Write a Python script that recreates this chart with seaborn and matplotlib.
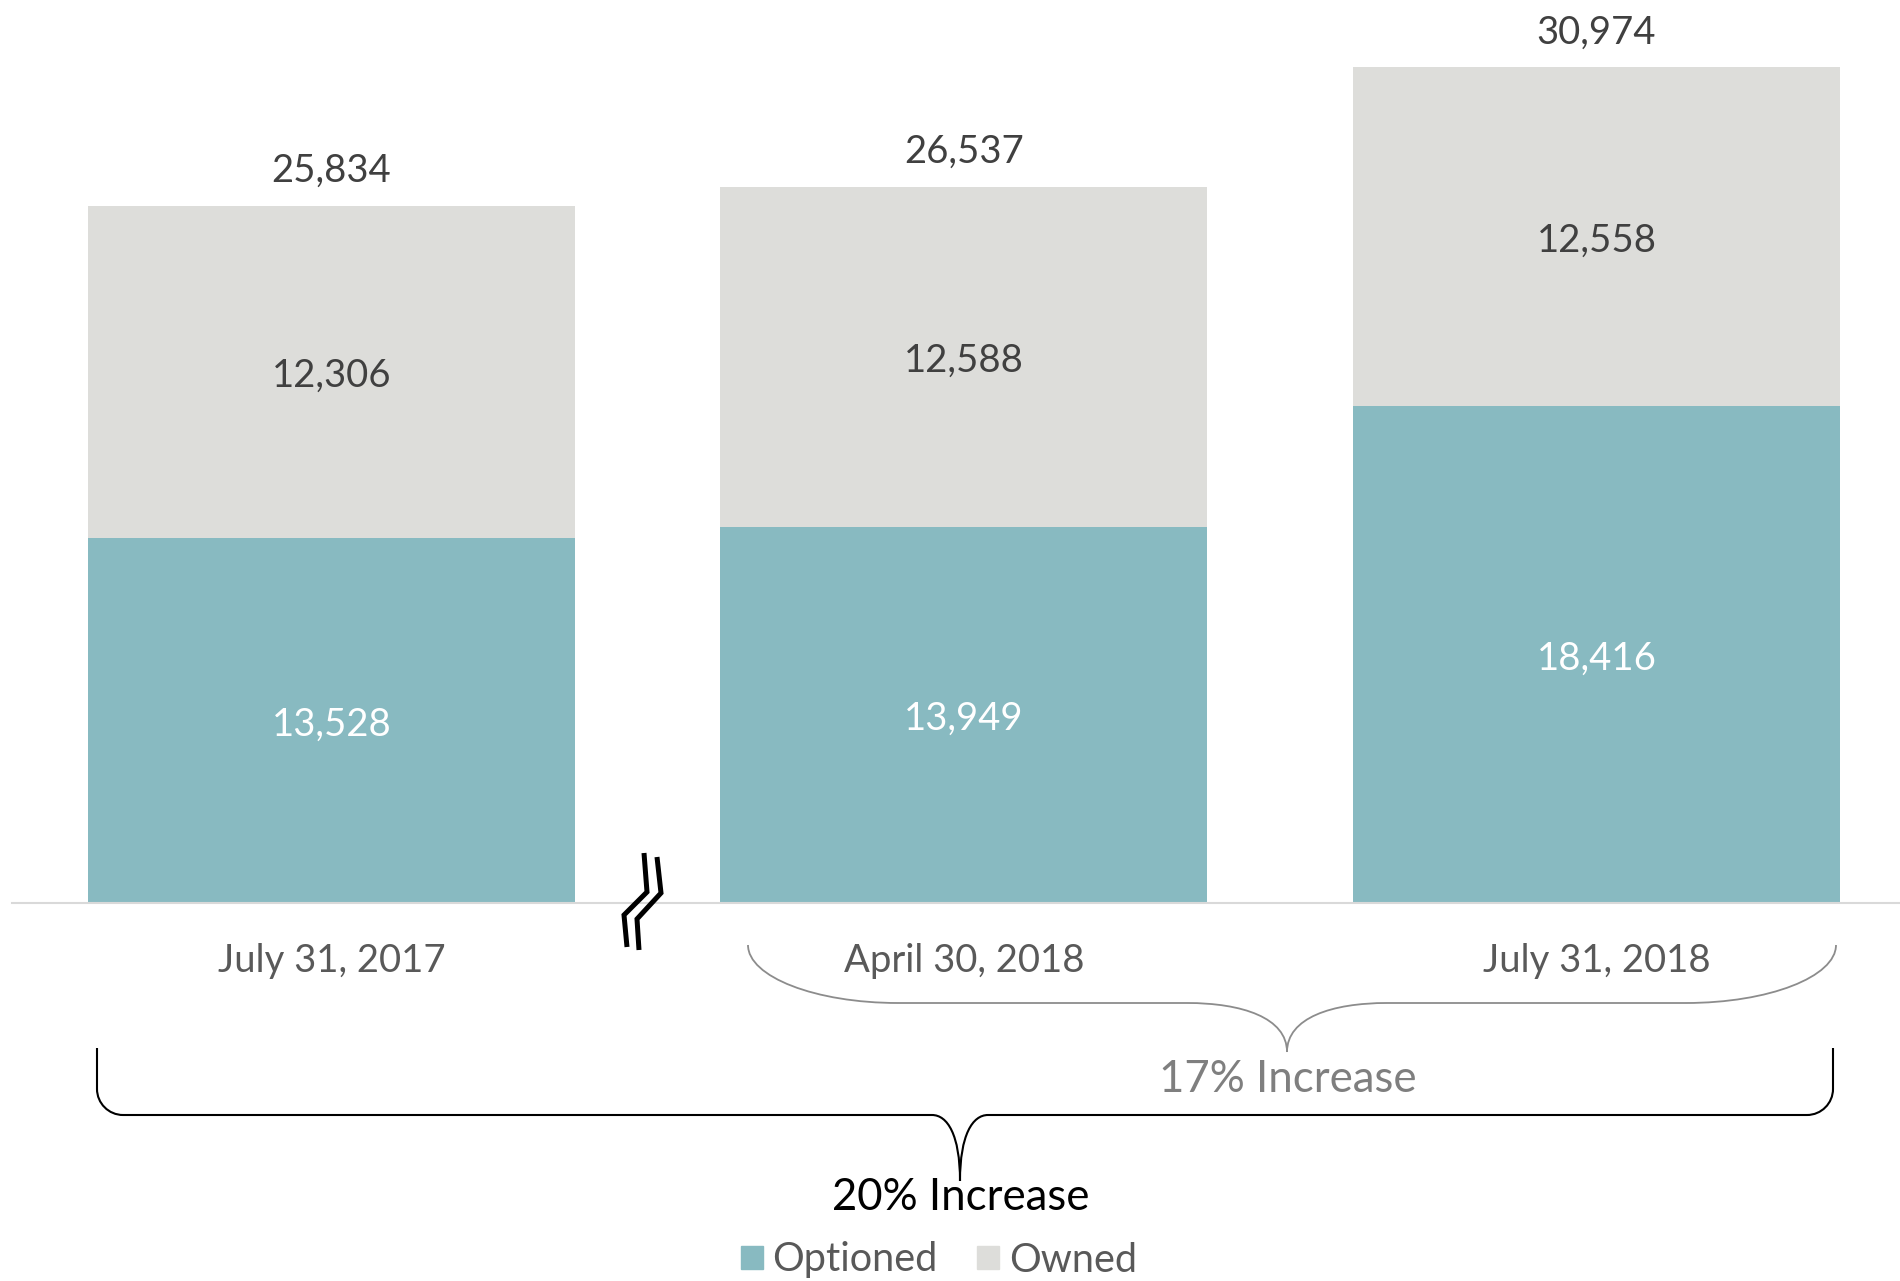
import matplotlib
matplotlib.use("Agg")
import matplotlib.pyplot as plt
import matplotlib.transforms as mtransforms
from matplotlib.path import Path
from matplotlib.patches import PathPatch, Patch
import seaborn as sns
import pandas as pd

# ---- data -------------------------------------------------------------
categories = ["July 31, 2017", "April 30, 2018", "July 31, 2018"]
optioned = [13528, 13949, 18416]
owned = [12306, 12588, 12558]
totals = [o + w for o, w in zip(optioned, owned)]
series_names = ["Optioned", "Owned"]
change_labels = ["17% Increase", "20% Increase"]

TEAL = "#88BAC1"
GREY = "#DDDDDA"
TEXT = "#404040"

sns.set_theme(style="white")
plt.rcParams["font.family"] = ["Lato", "DejaVu Sans"]

W, H = 1900, 1281
fig = plt.figure(figsize=(W / 100, H / 100), dpi=100)
ax = fig.add_axes([12 / W, (H - 903) / H, 1 - 12 / W, 903 / H])

df = pd.DataFrame({"date": categories, "optioned": optioned,
                   "owned": owned, "total": totals})

# stacked bars: full height in grey, optioned share in teal on top of it
sns.barplot(data=df, x="date", y="total", color=GREY, width=0.77,
            saturation=1, ax=ax, linewidth=0)
sns.barplot(data=df, x="date", y="optioned", color=TEAL, width=0.77,
            saturation=1, ax=ax, linewidth=0)

fs = 27.5
ax.set_xlim(-0.505, 2.48)
ax.set_ylim(0, 33457)
ax.set_xlabel("")
ax.set_ylabel("")
ax.set_yticks([])
for side in ["left", "right", "top"]:
    ax.spines[side].set_visible(False)
ax.spines["bottom"].set_color("#D9D9D9")
ax.spines["bottom"].set_linewidth(1.5)
ax.tick_params(axis="x", length=0, pad=29, labelsize=fs, labelcolor="#595959")
ax.set_xticks(range(len(categories)))
ax.set_xticklabels(categories)

for i, (o, w, t) in enumerate(zip(optioned, owned, totals)):
    ax.annotate(f"{o:,}", (i, o / 2), xytext=(0, -3), textcoords="offset points",
                ha="center", va="center", color="white", fontsize=fs)
    ax.annotate(f"{w:,}", (i, o + w / 2), xytext=(0, -3), textcoords="offset points",
                ha="center", va="center", color=TEXT, fontsize=fs)
    ax.annotate(f"{t:,}", (i, t), xytext=(0, 25), textcoords="offset points",
                ha="center", va="center", color=TEXT, fontsize=fs)

# pixel coordinates measured from the top-left corner of the figure
pix = mtransforms.Affine2D().scale(1 / W, -1 / H).translate(0, 1) + fig.transFigure

# axis break marks between the first and second bars
for pts in ([(644, 853), (647, 892), (624, 915), (627, 947)],
            [(657, 857), (661, 893), (637, 919), (639, 950)]):
    xs, ys = zip(*pts)
    fig.add_artist(plt.Line2D(xs, ys, transform=pix, color="black", lw=3.6,
                              solid_joinstyle="miter", solid_capstyle="butt"))


def brace(x0, x1, xt, ytop, ymid, ytip, rc, rcy, rt, **kw):
    k = 0.45
    d = (ytip - ymid) * 0.3
    verts = [
        (x0, ytop), (x0, ymid - rcy),
        (x0, ymid - rcy * k), (x0 + rc * k, ymid), (x0 + rc, ymid),
        (xt - rt, ymid),
        (xt - rt * k, ymid), (xt, ymid + d), (xt, ytip),
        (xt, ymid + d), (xt + rt * k, ymid), (xt + rt, ymid),
        (x1 - rc, ymid),
        (x1 - rc * k, ymid), (x1, ymid - rcy * k), (x1, ymid - rcy),
        (x1, ytop),
    ]
    codes = [Path.MOVETO, Path.LINETO,
             Path.CURVE4, Path.CURVE4, Path.CURVE4,
             Path.LINETO,
             Path.CURVE4, Path.CURVE4, Path.CURVE4,
             Path.CURVE4, Path.CURVE4, Path.CURVE4,
             Path.LINETO,
             Path.CURVE4, Path.CURVE4, Path.CURVE4,
             Path.LINETO]
    fig.add_artist(PathPatch(Path(verts, codes), transform=pix,
                             fill=False, **kw))


brace(748, 1836, 1287, 945, 1003, 1052, 150, 58, 100, ec="#8C8C8C", lw=1.3)
brace(97, 1833, 960, 1048, 1115, 1181, 26, 26, 28, ec="black", lw=1.5)

fig.text(1288 / W, 1 - 1080 / H, change_labels[0], ha="center", va="center",
         color="#7F7F7F", fontsize=31.5)
fig.text(961 / W, 1 - 1198 / H, change_labels[1], ha="center", va="center",
         color="black", fontsize=31.5)

handles = [Patch(color=TEAL), Patch(color=GREY)]
fig.legend(handles, series_names, loc="center", bbox_to_anchor=(939 / W, 1 - 1260 / H),
           ncol=2, frameon=False, fontsize=28.5, handlelength=0.55, handleheight=0.55,
           handletextpad=0.25, columnspacing=1.0, labelcolor="#595959")

fig.savefig("out.png", dpi=100)
